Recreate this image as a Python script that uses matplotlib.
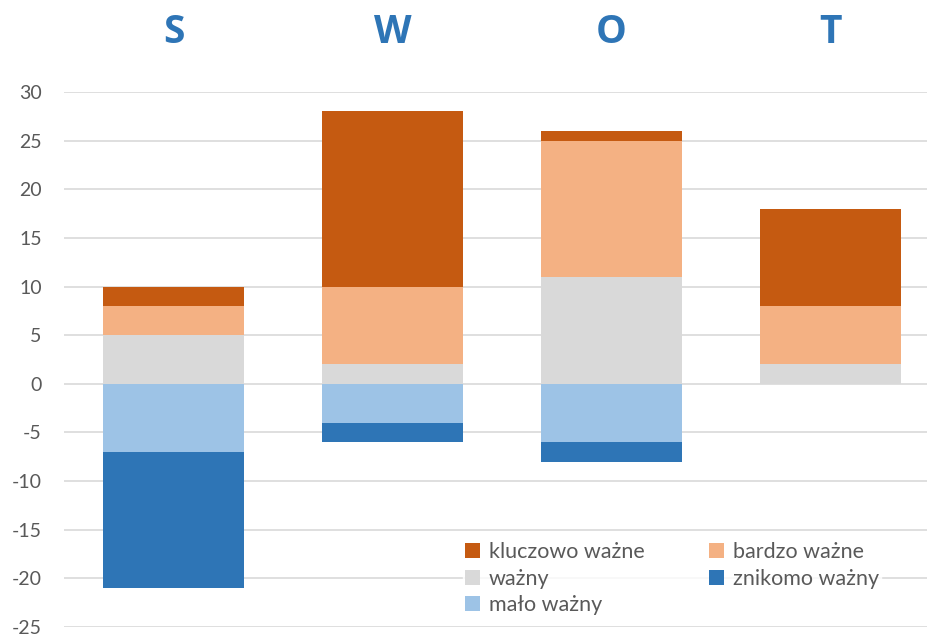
import numpy as np
import matplotlib.pyplot as plt

categories = ["S", "W", "O", "T"]
wazny = [5, 2, 11, 2]
bardzo_wazne = [3, 8, 14, 6]
kluczowo_wazne = [2, 18, 1, 10]
malo_wazny = [-7, -4, -6, 0]
znikomo_wazny = [-14, -2, -2, 0]
yticks = list(range(-25, 31, 5))

c_klucz = "#C55A11"
c_bardzo = "#F4B183"
c_wazny = "#D9D9D9"
c_malo = "#9DC3E6"
c_znik = "#2E75B6"

fig = plt.figure(figsize=(9.27, 6.36), dpi=100)
ax = fig.add_axes([64 / 927, 9 / 636, 876 / 927, 535 / 636])

x = np.arange(len(categories))
w = 0.644
wz = np.array(wazny)
bw = np.array(bardzo_wazne)
mw = np.array(malo_wazny)

b_wazny = ax.bar(x, wz, w, color=c_wazny, zorder=2)
b_bardzo = ax.bar(x, bw, w, bottom=wz, color=c_bardzo, zorder=2)
b_klucz = ax.bar(x, kluczowo_wazne, w, bottom=wz + bw, color=c_klucz, zorder=2)
b_malo = ax.bar(x, mw, w, color=c_malo, zorder=2)
b_znik = ax.bar(x, znikomo_wazny, w, bottom=mw, color=c_znik, zorder=2)

ax.set_xlim(-0.5, 3.5)
ax.set_ylim(-25, 30)
ax.set_yticks(yticks)
ax.set_yticklabels([str(v) for v in yticks], fontsize=14, color="#595959", family="Lato")
ax.set_xticks([])
ax.grid(axis="y", color="#D9D9D9", linewidth=1.2, zorder=0)
ax.tick_params(axis="y", length=0, pad=16)
for s in ax.spines.values():
    s.set_visible(False)

for i, c in enumerate(categories):
    ax.text(i, 1.112, c, transform=ax.get_xaxis_transform(), ha="center", va="center",
            fontsize=28, fontweight="bold", color="#2E75B6", family="Open Sans")

handles = [b_klucz, b_wazny, b_malo, b_bardzo, b_znik]
labels = ["kluczowo ważne", "ważny", "mało ważny", "bardzo ważne", "znikomo ważny"]
leg = ax.legend(handles, labels, ncol=2, loc="lower left", bbox_to_anchor=(0.443, -0.002),
                frameon=True, fancybox=False, edgecolor="white", facecolor="white",
                prop={"family": "Lato", "size": 15.5}, handlelength=0.7, handleheight=0.7,
                handletextpad=0.4, columnspacing=3.0, labelspacing=0.3, borderpad=0.1)
for t in leg.get_texts():
    t.set_color("#595959")
leg.set_zorder(3)

fig.savefig("out.png", dpi=100)
